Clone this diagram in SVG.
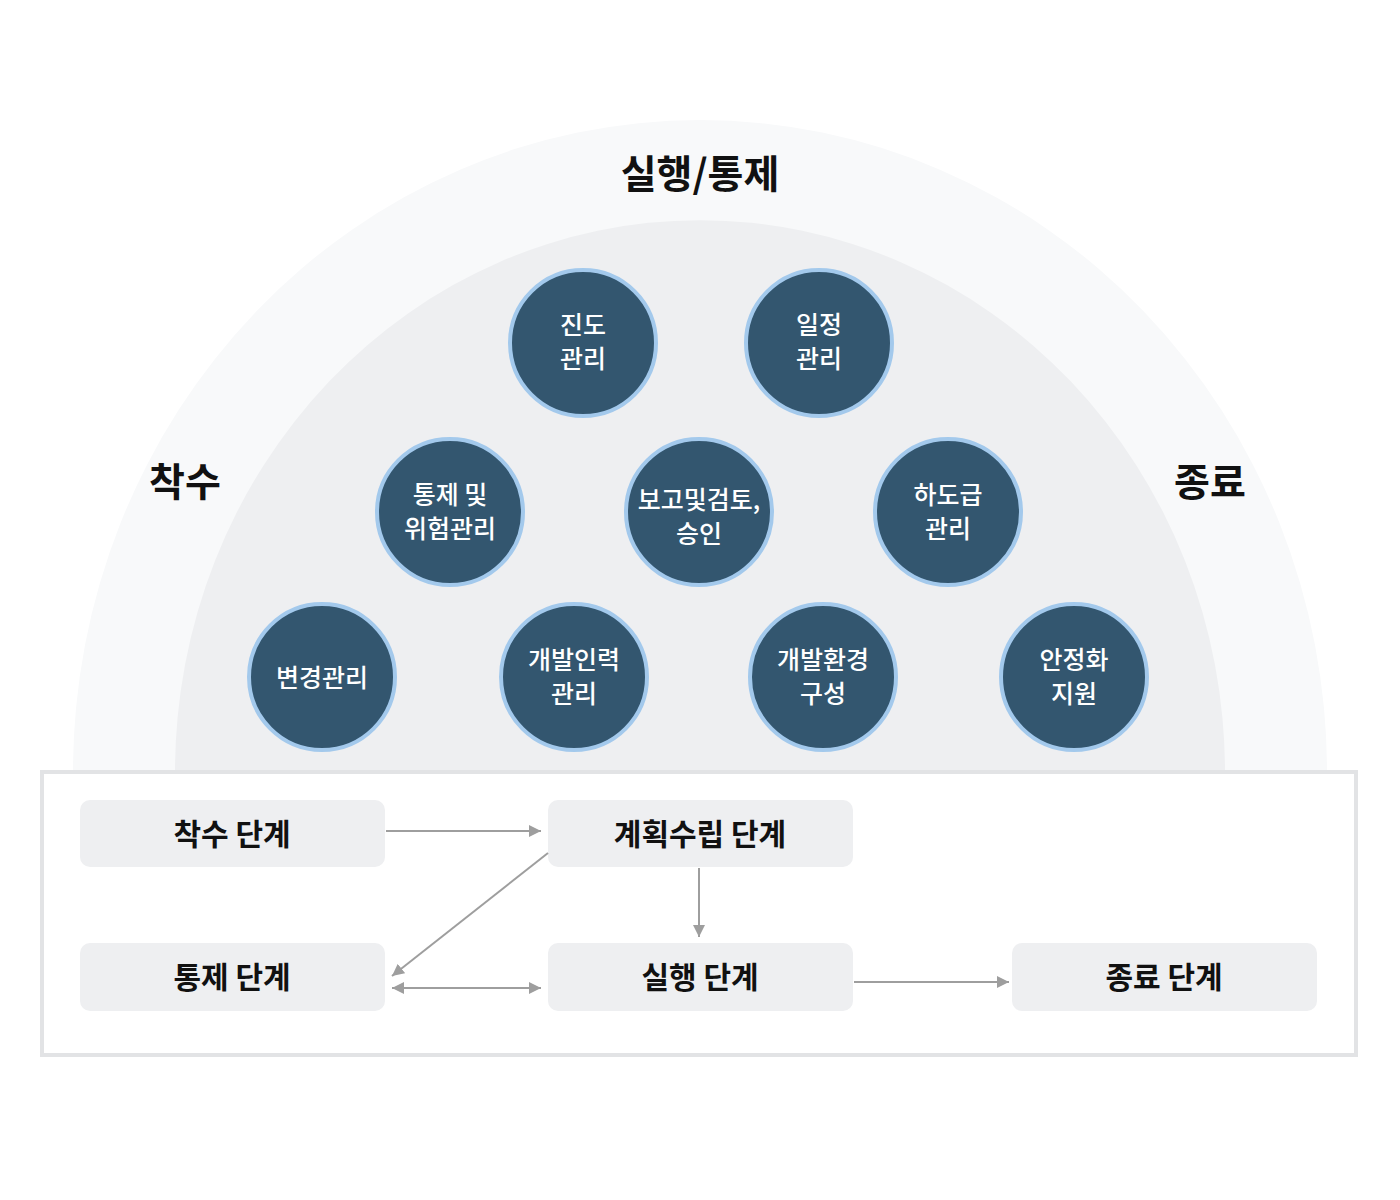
<svg xmlns="http://www.w3.org/2000/svg" width="1400" height="1200" viewBox="0 0 1400 1200">
<style>
.ttl{font-family:"Noto Sans CJK KR","Noto Sans",sans-serif;font-weight:700;fill:#111;text-anchor:middle;dominant-baseline:central}
.big{font-size:39px}
.ct{font-family:"Noto Sans CJK KR","Noto Sans",sans-serif;font-weight:500;font-size:25px;fill:#fff;text-anchor:middle;dominant-baseline:central}
.node circle{fill:#33566f;stroke:#a3c9ec;stroke-width:4}
.box rect{fill:#eeeff1}
.bt{font-family:"Noto Sans CJK KR","Noto Sans",sans-serif;font-weight:700;font-size:30px;fill:#111;text-anchor:middle;dominant-baseline:central}
.conn line{stroke:#9e9e9e;stroke-width:2;fill:none}
</style>
<defs>
<marker id="ah" markerUnits="userSpaceOnUse" markerWidth="12" markerHeight="12" viewBox="0 0 10 10" refX="10" refY="5" orient="auto-start-reverse">
<path d="M0,0 L10,5 L0,10 z" fill="#9e9e9e"/>
</marker>
</defs>
<rect width="1400" height="1200" fill="#fff"/>
<g id="background">
<path d="M73,772 A627,652 0 0 1 1327,772 Z" fill="#f8f9fa"/>
<path d="M175,772 A525,552 0 0 1 1225,772 Z" fill="#eeeff1"/>
<text class="ttl big" x="700" y="171">실행/통제</text>
<text class="ttl big" x="185" y="479">착수</text>
<text class="ttl big" x="1210" y="479">종료</text>
</g>
<g id="n1" class="node"><circle cx="583" cy="343" r="73"/><text class="ct" x="583" y="323">진도</text><text class="ct" x="583" y="357">관리</text></g>
<g id="n2" class="node"><circle cx="819" cy="343" r="73"/><text class="ct" x="819" y="323">일정</text><text class="ct" x="819" y="357">관리</text></g>
<g id="n3" class="node"><circle cx="450" cy="512" r="73"/><text class="ct" x="450" y="493">통제 및</text><text class="ct" x="450" y="527">위험관리</text></g>
<g id="n4" class="node"><circle cx="699" cy="512" r="73"/><text class="ct" x="699" y="498">보고및검토,</text><text class="ct" x="699" y="532">승인</text></g>
<g id="n5" class="node"><circle cx="948" cy="512" r="73"/><text class="ct" x="948" y="493">하도급</text><text class="ct" x="948" y="527">관리</text></g>
<g id="n6" class="node"><circle cx="322" cy="677" r="73"/><text class="ct" x="322" y="676">변경관리</text></g>
<g id="n7" class="node"><circle cx="574" cy="677" r="73"/><text class="ct" x="574" y="658">개발인력</text><text class="ct" x="574" y="692">관리</text></g>
<g id="n8" class="node"><circle cx="823" cy="677" r="73"/><text class="ct" x="823" y="658">개발환경</text><text class="ct" x="823" y="692">구성</text></g>
<g id="n9" class="node"><circle cx="1074" cy="677" r="73"/><text class="ct" x="1074" y="658">안정화</text><text class="ct" x="1074" y="692">지원</text></g>
<g id="container"><rect x="42" y="772" width="1314" height="283" fill="#fff" stroke="#e2e3e5" stroke-width="4"/></g>
<g id="b1" class="box"><rect x="80" y="800" width="305" height="67" rx="10"/><text class="bt" x="232" y="832">착수 단계</text></g>
<g id="b2" class="box"><rect x="548" y="800" width="305" height="67" rx="10"/><text class="bt" x="700" y="832">계획수립 단계</text></g>
<g id="b3" class="box"><rect x="80" y="943" width="305" height="68" rx="10"/><text class="bt" x="232" y="975">통제 단계</text></g>
<g id="b4" class="box"><rect x="548" y="943" width="305" height="68" rx="10"/><text class="bt" x="700" y="975">실행 단계</text></g>
<g id="b5" class="box"><rect x="1012" y="943" width="305" height="68" rx="10"/><text class="bt" x="1164" y="975">종료 단계</text></g>
<g id="connectors" class="conn">
<line x1="386" y1="831" x2="541" y2="831" marker-end="url(#ah)"/>
<line x1="699" y1="868" x2="699" y2="937" marker-end="url(#ah)"/>
<line x1="548" y1="853" x2="392" y2="976" marker-end="url(#ah)"/>
<line x1="392" y1="988" x2="541" y2="988" marker-start="url(#ah)" marker-end="url(#ah)"/>
<line x1="854" y1="982" x2="1009" y2="982" marker-end="url(#ah)"/>
</g>
</svg>
